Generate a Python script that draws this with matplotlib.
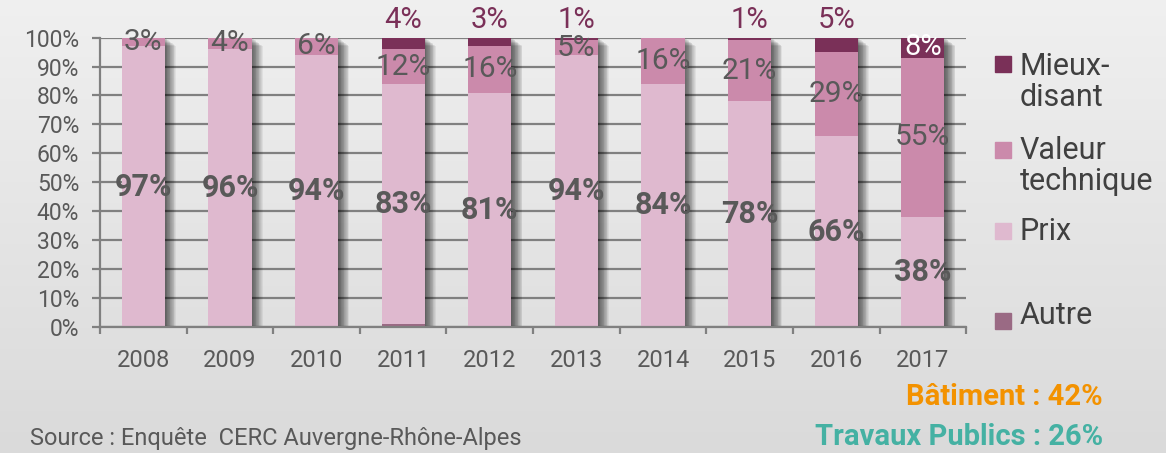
import numpy as np
import matplotlib.pyplot as plt
from matplotlib.patches import Rectangle

plt.rcParams['font.family'] = ['Roboto', 'DejaVu Sans']

years = ['2008', '2009', '2010', '2011', '2012', '2013', '2014', '2015', '2016', '2017']
autre = [0, 0, 0, 1, 0, 0, 0, 0, 0, 0]
prix = [97, 96, 94, 83, 81, 94, 84, 78, 66, 38]
valeur = [3, 4, 6, 12, 16, 5, 16, 21, 29, 55]
mieux = [0, 0, 0, 4, 3, 1, 0, 1, 5, 8]

c_autre = '#9a6a84'
c_prix = '#dfb9cf'
c_valeur = '#cb8aab'
c_mieux = '#7a3058'
txt = '#595959'

fig = plt.figure(figsize=(11.66, 4.53), dpi=100)

# background gradient
bg = fig.add_axes([0, 0, 1, 1], zorder=-10)
grad = np.linspace(0, 1, 256).reshape(-1, 1)
top = np.array([0.94, 0.94, 0.94])
bot = np.array([0.855, 0.855, 0.855])
img = top + (bot - top) * grad[:, :, None]
bg.imshow(img, aspect='auto', extent=[0, 1, 0, 1])
bg.set_axis_off()

ax = fig.add_axes([0.0858, 0.278, 0.7428, 0.639])
ax.set_facecolor('none')

x = np.arange(len(years))
w = 0.5
a = np.array(autre)
p = np.array(prix)
v = np.array(valeur)
m = np.array(mieux)
tot = np.minimum(a + p + v + m, 100)

# soft shadow to the right of each bar
for k in range(1, 15):
    ax.bar(x + 0.009 * k, tot - 0.2 * k, w, bottom=0, color='black', alpha=0.055,
           zorder=1.5, linewidth=0)

ax.bar(x, a, w, color=c_autre, zorder=2)
ax.bar(x, p, w, bottom=a, color=c_prix, zorder=2)
ax.bar(x, v, w, bottom=a + p, color=c_valeur, zorder=2)
ax.bar(x, np.minimum(m, 100 - (a + p + v)), w, bottom=a + p + v, color=c_mieux, zorder=2)

for i in range(len(years)):
    ax.text(x[i], a[i] + p[i] / 2, f'{prix[i]}%', ha='center', va='center',
            fontsize=22, fontweight='bold', color=txt, zorder=5)
    ax.text(x[i], a[i] + p[i] + v[i] / 2, f'{valeur[i]}%', ha='center', va='center',
            fontsize=21.5, color=txt, zorder=5)
    if mieux[i] > 0:
        if mieux[i] >= 8:
            ax.text(x[i], 96.8, f'{mieux[i]}%', ha='center', va='center',
                    fontsize=21, color='white', zorder=5)
        else:
            ax.text(x[i], 106, f'{mieux[i]}%', ha='center', va='center',
                    fontsize=21, color=c_mieux, zorder=5, clip_on=False)

ax.set_xlim(-0.5, len(years) - 0.5)
ax.set_ylim(0, 100)
ax.set_yticks(np.arange(0, 101, 10))
ax.set_yticklabels([f'{t}%' for t in range(0, 101, 10)])
ax.yaxis.grid(True, color='#808080', linewidth=1.6, zorder=0)
ax.set_axisbelow(True)
ax.tick_params(axis='y', length=6, width=1.6, color='#808080', pad=9,
               labelsize=16.5, labelcolor=txt)

ax.set_xticks(x)
ax.set_xticklabels(years)
ax.set_xticks(np.arange(-0.5, len(years)), minor=True)
ax.tick_params(axis='x', which='major', length=0, pad=16, labelsize=17, labelcolor=txt)
ax.tick_params(axis='x', which='minor', length=5, width=1.6, color='#808080')

for s in ['top', 'right']:
    ax.spines[s].set_visible(False)
for s in ['left', 'bottom']:
    ax.spines[s].set_color('#808080')
    ax.spines[s].set_linewidth(1.6)

# legend
leg = [(c_mieux, 'Mieux-\ndisant', 64, 82), (c_valeur, 'Valeur\ntechnique', 150, 166),
       (c_prix, 'Prix', 231, 231), (c_autre, 'Autre', 321, 316)]
for col, lab, ym, yt in leg:
    fig.patches.append(Rectangle((995 / 1166, 1 - (ym + 8) / 453), 16 / 1166, 16 / 453,
                                 transform=fig.transFigure, color=col))
    fig.text(1020 / 1166, 1 - yt / 453, lab, ha='left', va='center', fontsize=22,
             color='#404040', linespacing=1.1)

fig.text(1103 / 1166, 1 - 397 / 453, 'Bâtiment : 42%', ha='right', va='center',
         fontsize=21, fontweight='bold', color='#f39200')
fig.text(1103 / 1166, 1 - 437 / 453, 'Travaux Publics : 26%', ha='right', va='center',
         fontsize=21, fontweight='bold', color='#45b1a3')
fig.text(30 / 1166, 1 - 439 / 453, 'Source : Enquête  CERC Auvergne-Rhône-Alpes',
         ha='left', va='center', fontsize=17, color=txt)

fig.savefig('out.png', dpi=100)
